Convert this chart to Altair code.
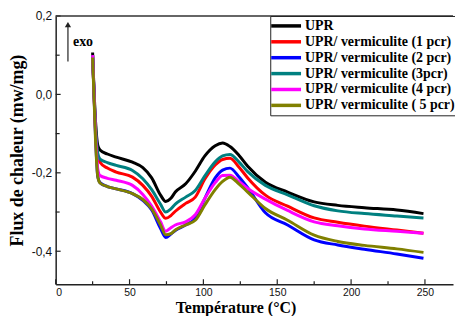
import altair as alt
import pandas as pd

# ---- data ----
temps = [25, 27, 28.5, 30, 35, 41, 52, 59, 65, 71, 74.5, 78, 81, 88, 94.5,
         101, 108, 113, 118, 124, 130, 142, 157, 175, 191, 209, 231, 249]

series_names = ["UPR", "UPR/ vermiculite (1 pcr)", "UPR/ vermiculite (2 pcr)",
                "UPR/ vermiculite (3pcr)", "UPR/ vermiculite (4 pcr)",
                "UPR/ vermiculite ( 5 pcr)"]
colors = ["#000000", "#ff0000", "#0000ff", "#008080", "#ff00ff", "#808000"]

upr = [0.107, -0.07, -0.13, -0.142, -0.152, -0.160, -0.173, -0.187, -0.213, -0.257,
       -0.273, -0.265, -0.249, -0.228, -0.196, -0.157, -0.131, -0.124, -0.133, -0.155,
       -0.183, -0.224, -0.249, -0.274, -0.283, -0.289, -0.295, -0.304]
p1 = [0.100, -0.09, -0.16, -0.173, -0.188, -0.198, -0.211, -0.232, -0.260, -0.300,
      -0.316, -0.309, -0.298, -0.278, -0.262, -0.216, -0.180, -0.166, -0.163, -0.185,
      -0.213, -0.257, -0.285, -0.315, -0.326, -0.336, -0.346, -0.354]
p2 = [0.100, -0.11, -0.21, -0.225, -0.235, -0.241, -0.253, -0.270, -0.295, -0.342,
      -0.365, -0.356, -0.347, -0.333, -0.316, -0.265, -0.213, -0.193, -0.188, -0.210,
      -0.238, -0.302, -0.333, -0.371, -0.384, -0.395, -0.407, -0.418]
p3 = [0.100, -0.08, -0.15, -0.165, -0.174, -0.181, -0.194, -0.215, -0.243, -0.280,
      -0.300, -0.292, -0.280, -0.262, -0.245, -0.208, -0.172, -0.157, -0.153, -0.172,
      -0.197, -0.232, -0.256, -0.284, -0.297, -0.304, -0.310, -0.315]
p4 = [0.100, -0.10, -0.19, -0.207, -0.214, -0.219, -0.232, -0.255, -0.285, -0.325,
      -0.349, -0.340, -0.333, -0.325, -0.307, -0.265, -0.225, -0.207, -0.206, -0.222,
      -0.240, -0.267, -0.296, -0.325, -0.335, -0.343, -0.349, -0.354]
p5 = [0.094, -0.12, -0.21, -0.226, -0.235, -0.241, -0.253, -0.268, -0.292, -0.333,
      -0.358, -0.355, -0.346, -0.333, -0.321, -0.282, -0.243, -0.222, -0.211, -0.228,
      -0.249, -0.291, -0.321, -0.359, -0.375, -0.385, -0.394, -0.403]

x_labels = [0, 50, 100, 150, 200, 250]
x_minor = [25, 75, 125, 175, 225]
y_labels = [-0.4, -0.2, 0.0, 0.2]
y_minor = [-0.3, -0.1, 0.1]

arrow_t = [8.3]
arrow_v0 = [0.084]
arrow_v1 = [0.178]
exo_t = [18.5]
exo_v = [0.134]
exo_text = ["exo"]

# ---- build table ----
rows = []
for name, vals in zip(series_names, [upr, p1, p2, p3, p4, p5]):
    for t, v in zip(temps, vals):
        rows.append({"T": t, "v": v, "s": name})
df = pd.DataFrame(rows)

W, H = 400, 270
x_scale = alt.Scale(domain=[0, 269], nice=False, zero=False)
y_scale = alt.Scale(domain=[-0.484, 0.2], nice=False, zero=False)

x_axis = alt.Axis(
    values=x_labels, format="d", ticks=False, labelPadding=3,
    labelFont="Liberation Sans", labelFontSize=10.5, labelColor="#111",
    domainColor="#222", domainWidth=1.5, grid=False,
    title="Température (°C)", titleFont="Liberation Serif", titleFontWeight="bold",
    titleFontSize=16, titleColor="black", titleX=181, titleY=28.5,
    titleBaseline="alphabetic")
y_axis = alt.Axis(
    values=y_labels, ticks=False, labelPadding=4,
    labelExpr="replace(replace(format(datum.value, '.1f'), '.', ','), '\u2212', '-')",
    labelFont="Liberation Sans", labelFontSize=12, labelColor="#111",
    domainColor="#222", domainWidth=1.5, grid=False,
    title="Flux de chaleur (mw/mg)", titleFont="Liberation Serif", titleFontWeight="bold",
    titleFontSize=18, titleColor="black", titlePadding=5)

lines = alt.Chart(df).mark_line(strokeWidth=3, interpolate="monotone", clip=True).encode(
    x=alt.X("T:Q", scale=x_scale, axis=x_axis),
    y=alt.Y("v:Q", scale=y_scale, axis=y_axis),
    color=alt.Color("s:N", sort=series_names,
                    scale=alt.Scale(domain=series_names, range=colors),
                    legend=alt.Legend(title=None, orient="none", legendX=216, legendY=0,
                                      direction="vertical", symbolType="M-3,0H3",
                                      symbolSize=100, symbolStrokeWidth=3.5,
                                      symbolOffset=6,
                                      labelFont="Liberation Serif", labelFontWeight="bold",
                                      labelFontSize=14, labelColor="black",
                                      strokeColor="#222", fillColor="white",
                                      padding=3, rowPadding=2, labelOffset=12,
                                      labelLimit=400)),
)

xt_major = alt.Chart(pd.DataFrame({"T": x_labels})).mark_rule(color="#222", strokeWidth=1.2).encode(
    x=alt.X("T:Q", scale=x_scale), y=alt.value(H), y2=alt.value(H - 5))
xt_minor = alt.Chart(pd.DataFrame({"T": x_minor})).mark_rule(color="#222", strokeWidth=1.2).encode(
    x=alt.X("T:Q", scale=x_scale), y=alt.value(H), y2=alt.value(H - 3))
yt_major = alt.Chart(pd.DataFrame({"v": y_labels})).mark_rule(color="#222", strokeWidth=1.2).encode(
    y=alt.Y("v:Q", scale=y_scale), x=alt.value(0), x2=alt.value(5))
yt_minor = alt.Chart(pd.DataFrame({"v": y_minor})).mark_rule(color="#222", strokeWidth=1.2).encode(
    y=alt.Y("v:Q", scale=y_scale), x=alt.value(0), x2=alt.value(4))

top_border = alt.Chart(pd.DataFrame({"a": [0]})).mark_rule(color="#333", strokeWidth=1.5).encode(
    x=alt.value(0), x2=alt.value(W), y=alt.value(0))

arrow_df = pd.DataFrame({"T": arrow_t, "v": arrow_v0, "v2": arrow_v1})
arrow = alt.Chart(arrow_df).mark_rule(color="#333", strokeWidth=1.3).encode(
    x=alt.X("T:Q", scale=x_scale),
    y=alt.Y("v:Q", scale=y_scale), y2="v2:Q")
head = alt.Chart(arrow_df).mark_point(shape="triangle-up", filled=True, color="#222",
                                      size=40, opacity=1).encode(
    x=alt.X("T:Q", scale=x_scale),
    y=alt.Y("v2:Q", scale=y_scale, title="Flux de chaleur (mw/mg)"))
exo = alt.Chart(pd.DataFrame({"T": exo_t, "v": exo_v, "t": exo_text})).mark_text(
    font="Liberation Serif", fontWeight="bold", fontSize=14, color="black").encode(
    x=alt.X("T:Q", scale=x_scale),
    y=alt.Y("v:Q", scale=y_scale), text="t:N")

chart = alt.layer(lines, xt_major, xt_minor, yt_major, yt_minor, top_border, arrow, head, exo).properties(
    width=W, height=H,
    autosize=alt.AutoSizeParams(type="none"),
    padding={"left": 48, "top": 7, "right": 2, "bottom": 31},
    background="white",
).configure_view(stroke=None)

chart.save("out.html", embed_options={"renderer": "svg", "actions": False})
